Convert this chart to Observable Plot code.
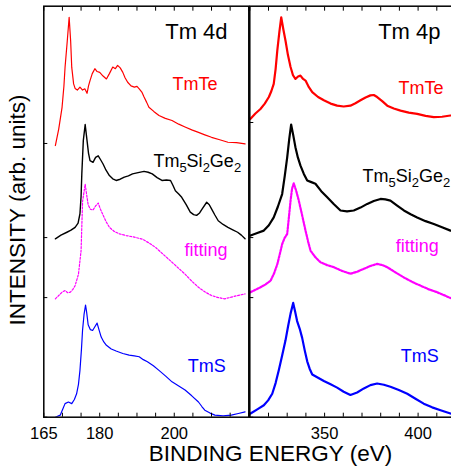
<!DOCTYPE html>
<html><head><meta charset="utf-8">
<script src="https://cdn.jsdelivr.net/npm/d3@7"></script>
<script src="https://cdn.jsdelivr.net/npm/@observablehq/plot@0.6"></script>
<style>
body{margin:0;background:#fff;}
#c{position:relative;width:451px;height:470px;overflow:hidden;font-family:"Liberation Sans",Arial,sans-serif;background:#fff;}
#c svg{position:absolute;top:0;}
.lab{position:absolute;font-size:22.5px;line-height:1;white-space:nowrap;color:#000;font-family:"Liberation Sans",Arial,sans-serif;}
</style></head><body><div id="c"></div>
<script>
// ---- Tm 4d panel (binding energy eV, intensity above baseline, arb. units) ----
const tmTe4d = [[168.1,-0.5],[169.0,3.5],[169.9,8.8],[170.4,14],[170.7,18.5],[171.3,25],[171.8,30.7],[172.2,25],[172.5,18.5],[173.0,14.5],[173.4,13.4],[174.0,13.0],[174.7,13.7],[175.4,13.0],[176.0,13.3],[176.6,12.2],[177.0,14.0],[177.4,15.3],[178.0,17.0],[178.7,18.2],[179.3,17.5],[180.0,17.3],[180.9,16.4],[181.8,15.7],[182.6,17.0],[183.5,18.6],[184.2,18.2],[184.8,19.0],[185.5,18.4],[186.2,17.3],[186.8,16.0],[187.5,14.9],[188.4,14.0],[189.3,13.7],[190.0,13.9],[190.6,13.3],[191.3,12.5],[191.9,11.3],[192.6,10.0],[193.2,8.8],[194.5,7.8],[195.9,6.8],[197.6,6.1],[199.4,5.6],[201.2,4.7],[202.9,4.0],[204.7,3.3],[206.5,2.7],[208.2,2.1],[210.0,1.5],[212.2,0.9],[214.4,0.3],[216.7,0.2],[219,-0.1]];
const tmSiGe4d = [[168.1,-0.3],[169.6,0.6],[171.2,1.3],[172.3,1.8],[173.4,2.5],[174.2,3.5],[174.7,5.8],[175.0,10],[175.2,15.5],[175.6,23.6],[176.1,27.5],[176.6,23.6],[177.0,20.5],[177.4,18.7],[178.2,18.3],[178.9,19.5],[179.6,19.9],[180.2,19.0],[180.9,17.9],[181.7,16.4],[182.6,15.1],[183.5,14.3],[184.4,13.9],[185.5,14.2],[186.6,14.7],[187.7,15.0],[188.8,15.5],[190.3,15.8],[191.9,16.1],[193.0,15.9],[194.1,15.5],[195.4,14.6],[196.7,13.9],[197.9,14.0],[199.0,13.9],[199.7,12.6],[200.3,11.4],[201.2,10.6],[202.0,9.8],[203.2,8.0],[204.3,6.2],[205.2,5.6],[206.0,5.4],[206.8,6.0],[207.5,7.0],[208.7,8.6],[209.4,8.0],[210.0,7.0],[210.9,5.5],[211.8,4.1],[213.1,3.2],[214.4,2.5],[215.7,1.9],[217.0,1.3],[218.0,0.6],[219,-0.3]];
const fit4d = [[168.1,-0.3],[169,0.5],[170.0,1.4],[170.7,1.7],[171.4,1.2],[172.1,1.3],[172.8,2.0],[173.4,2.9],[174.3,5.7],[175,11.4],[175.4,23.4],[176.1,27.6],[176.5,25],[176.9,22.6],[177.5,21.5],[178.2,21.3],[178.9,22.3],[179.6,23.0],[180.2,21.5],[180.9,20.1],[181.7,18.5],[182.6,17.1],[183.9,16.1],[185.3,15.5],[187.1,15.1],[189.3,14.7],[191.5,14.2],[193.2,13.3],[195,12.2],[197.2,10.4],[199.4,8.6],[201.2,7.1],[202.9,5.7],[204.7,4.0],[206.5,2.5],[208.2,1.4],[210,0.5],[211.8,0.0],[213.5,-0.3],[215.3,0.1],[217,0.5],[219,0.9]];
const tmS4d = [[168.1,0],[169.4,0.5],[170.1,2.0],[170.7,3.3],[171.6,3.7],[172.5,3.3],[173.2,4.3],[173.8,5.7],[174.3,8.0],[174.7,11.4],[175.1,16.5],[175.4,21.2],[175.8,25.0],[176.2,27.3],[176.5,25.5],[176.9,22.5],[177.5,21.3],[178.1,21.1],[178.7,22.0],[179.3,22.9],[179.8,21.3],[180.4,19.5],[181.1,18.3],[181.8,17.5],[183.1,16.6],[184.4,16.1],[186.2,15.5],[187.9,15.1],[189.3,14.9],[190.6,14.7],[191.7,14.0],[192.8,13.5],[194.4,12.5],[195.9,11.4],[197.7,10.0],[199.4,8.6],[201.2,7.6],[202.9,6.6],[204.7,5.2],[206.5,3.7],[207.4,2.6],[208.2,1.7],[209.6,1.0],[210.9,0.5],[213.1,0.3],[215.3,0.5],[217.2,0.9],[219,1.3]];

// ---- Tm 4p panel ----
const tmTe4p = [[310.4,0.9],[313.0,2.2],[315.7,3.3],[318.0,4.6],[320.2,6.2],[321.5,7.6],[322.8,9.4],[323.8,13],[324.7,17.5],[325.8,22],[326.8,25.6],[328.0,22.5],[329.1,19.9],[330.4,16.4],[331.8,13.5],[333.1,11.5],[334.4,10.6],[335.8,11.2],[337.1,11.4],[338.5,10.6],[339.8,10.2],[341.6,8.6],[343.4,7.4],[346.5,6.2],[349.6,5.4],[353.2,4.6],[356.7,4.1],[360.2,3.9],[363.8,4.1],[366.5,4.7],[369.2,5.4],[371.9,6.1],[374.5,6.6],[376.3,6.7],[378.1,6.2],[380.8,5.2],[383.5,4.1],[387.0,3.4],[390.6,2.9],[395.0,2.4],[399.5,2.1],[404.0,1.6],[408.4,1.3],[412.8,1.4],[417.3,1.7]];
const tmSiGe4p = [[310.4,0.5],[314.0,1.1],[317.5,1.7],[320.2,3.0],[322.8,4.9],[325.0,7.5],[327.3,10.6],[328.7,15],[330,19.5],[331.1,24],[332.1,27.5],[333.2,25],[334.4,22.0],[335.7,19.5],[337.1,17.5],[338.9,15.5],[340.7,13.9],[342.9,13.5],[345.1,13.1],[348.2,11.3],[351.4,9.8],[355.0,8.1],[358.5,6.6],[362.0,6.4],[365.6,6.6],[369.2,7.3],[372.8,8.2],[376.3,8.9],[379.9,9.4],[382.5,9.3],[385.2,9.0],[388.8,7.8],[392.4,6.6],[396.0,5.7],[399.5,4.9],[404.0,4.0],[408.4,3.3],[412.8,2.5],[417.3,1.7]];
const fit4p = [[310.4,1.3],[313.0,1.9],[315.7,2.5],[318.4,3.2],[321.1,4.1],[322.9,5.8],[324.7,8.1],[326.0,10.5],[327.3,13.0],[328.6,14.5],[330,15.5],[330.9,19.5],[331.8,23.6],[332.6,26.5],[333.5,27.8],[334.8,26],[336.2,23.6],[338.0,20],[339.8,16.3],[341.2,13.6],[342.5,11.4],[345.1,9.8],[347.8,8.6],[351.3,7.9],[354.9,7.4],[359.3,6.5],[363.8,5.8],[367.4,6.3],[371,7.0],[374.5,7.7],[378.1,8.2],[380.8,7.9],[383.5,7.4],[388.0,6.1],[392.4,4.9],[396.9,3.8],[401.3,2.9],[405.8,2.0],[410.2,1.3],[413.8,0.6],[417.3,-0.1]];
const tmS4p = [[310.4,0.9],[314.0,1.9],[317.5,2.9],[319.8,4.1],[322,5.7],[323.8,8.3],[325.5,11.4],[327.3,15.0],[329.1,18.7],[330.5,22.2],[331.8,25.2],[333.2,27.8],[334.2,25.8],[335.3,23.4],[336.7,21.5],[338,19.3],[339.4,16.2],[340.7,13.6],[342.0,11.8],[343.4,10.4],[346.5,9.6],[349.6,8.8],[353.2,8.0],[356.7,7.2],[360.2,6.2],[363.8,5.4],[367.4,6.0],[371,7.0],[374.5,7.8],[378.1,8.2],[381.7,7.9],[385.2,7.4],[389.7,6.6],[394.2,5.7],[398.6,4.5],[403,3.3],[407.5,2.4],[412,1.7],[417.3,0.9]];

// vertical offsets (baselines) of the stacked spectra
const seriesNames = ["TmTe", "Tm5Si2Ge2", "fitting", "TmS"];
const seriesColors = ["#ff0000", "#000000", "#ff00ff", "#0000ff"];
const offsets4d = [66.6, 43.7, 29.1, 0];
const offsets4p = [71.7, 43.7, 29.1, 0];

// tick values
const minorTicks4d = [165,170,175,180,185,190,195,200,205,210,215,220];
const labelTicks4d = [165,180,200];
const minorTicks4p = [310,320,330,340,350,360,370,380,390,400,410,420];
const labelTicks4p = [350,400];

const font = "'Liberation Sans', Arial, sans-serif";

function spectra(sets, offsets, widths, dash) {
  return sets.map((s, i) => Plot.line(s, {
    x: d => d[0], y: d => d[1] + offsets[i],
    stroke: seriesColors[i], strokeWidth: widths[i],
    strokeDasharray: seriesNames[i] === "fitting" ? dash : null,
    clip: true
  }));
}

function panel({domain, sets, offsets, widths, dash, minor, labels, marginLeft, marginRight, width, texts}) {
  return Plot.plot({
    width, height: 470,
    marginLeft, marginRight, marginTop: 5.7, marginBottom: 53.3,
    style: {fontFamily: font, fontSize: "16.5px", background: "transparent", overflow: "visible", color: "#000"},
    x: {domain, label: null},
    y: {domain: [0, 100], label: null},
    marks: [
      ...spectra(sets, offsets, widths, dash),
      Plot.axisX({anchor: "bottom", ticks: minor, tickSize: -4, tickFormat: () => "", label: null, strokeWidth: 1}),
      Plot.axisX({anchor: "top", ticks: minor, tickSize: -4, tickFormat: () => "", label: null, strokeWidth: 1}),
      Plot.axisX({anchor: "bottom", ticks: labels, tickSize: 0, tickPadding: 10, label: null, fontSize: 16.5}),
      Plot.axisY({anchor: "left", ticks: offsets, tickSize: -4, tickFormat: () => "", label: null, strokeWidth: 1}),
      Plot.frame({stroke: "#000", strokeWidth: 1.5}),
      ...texts
    ]
  });
}

const left = panel({
  domain: [165, 220], sets: [tmTe4d, tmSiGe4d, fit4d, tmS4d], offsets: offsets4d,
  widths: [1.2, 1.4, 1.2, 1.2], dash: "2,1.6", minor: minorTicks4d, labels: labelTicks4d,
  marginLeft: 43.3, marginRight: 1.7, width: 250,
  texts: [
    Plot.text(["Tm 4d"], {x: 214.3, y: 92.1, text: d => d, textAnchor: "end", lineAnchor: "bottom", fontSize: 22, fill: "#000"}),
    Plot.text([seriesNames[0]], {x: 211.6, y: 79.7, text: d => d, textAnchor: "end", lineAnchor: "bottom", fontSize: 18, fill: seriesColors[0]}),
    Plot.text([seriesNames[1]], {x: 194.4, y: 60.8, text: d => d, textAnchor: "start", lineAnchor: "bottom", fontSize: 18, fill: seriesColors[1]}),
    Plot.text([seriesNames[2]], {x: 214.3, y: 39.1, text: d => d, textAnchor: "end", lineAnchor: "bottom", fontSize: 18, fill: seriesColors[2]}),
    Plot.text([seriesNames[3]], {x: 213.8, y: 10.9, text: d => d, textAnchor: "end", lineAnchor: "bottom", fontSize: 18, fill: seriesColors[3]})
  ]
});

const right = panel({
  domain: [310, 310 + (462 - 249.3) / 1.87], sets: [tmTe4p, tmSiGe4p, fit4p, tmS4p], offsets: offsets4p,
  widths: [2.2, 2.2, 2.2, 2.2], dash: "2,1.4", minor: minorTicks4p, labels: labelTicks4p,
  marginLeft: 49.3, marginRight: 0, width: 262,
  texts: [
    Plot.text(["Tm 4p"], {x: 412.0, y: 92.1, text: d => d, textAnchor: "end", lineAnchor: "bottom", fontSize: 22, fill: "#000"}),
    Plot.text([seriesNames[0]], {x: 413.6, y: 78.7, text: d => d, textAnchor: "end", lineAnchor: "bottom", fontSize: 18, fill: seriesColors[0]}),
    Plot.text([seriesNames[1]], {x: 370.3, y: 57.2, text: d => d, textAnchor: "start", lineAnchor: "bottom", fontSize: 18, fill: seriesColors[1]}),
    Plot.text([seriesNames[2]], {x: 411.0, y: 40.1, text: d => d, textAnchor: "end", lineAnchor: "bottom", fontSize: 18, fill: seriesColors[2]}),
    Plot.text([seriesNames[3]], {x: 411.0, y: 13.4, text: d => d, textAnchor: "end", lineAnchor: "bottom", fontSize: 18, fill: seriesColors[3]})
  ]
});

// chemical formula with subscripts
function subscriptify(svg) {
  svg.querySelectorAll("text").forEach(t => {
    if (t.textContent === "Tm5Si2Ge2") {
      t.textContent = "";
      const parts = [["Tm", 0, 18], ["5", 5, 13], ["Si", -5, 18], ["2", 5, 13], ["Ge", -5, 18], ["2", 5, 13]];
      for (const [s, dy, fs] of parts) {
        const ts = document.createElementNS("http://www.w3.org/2000/svg", "tspan");
        ts.textContent = s;
        if (dy) ts.setAttribute("dy", dy);
        ts.setAttribute("font-size", fs);
        t.appendChild(ts);
      }
    }
  });
}
subscriptify(left); subscriptify(right);

const c = document.getElementById("c");
left.style.left = "0px";
right.style.left = "200px";
c.appendChild(left);
c.appendChild(right);

const xl = document.createElement("div");
xl.className = "lab";
xl.textContent = "BINDING ENERGY (eV)";
xl.style.left = "270.5px"; xl.style.top = "443px"; xl.style.transform = "translateX(-50%)";
c.appendChild(xl);

const yl = document.createElement("div");
yl.className = "lab";
yl.textContent = "INTENSITY (arb. units)";
yl.style.left = "18.4px"; yl.style.top = "210px"; yl.style.transform = "translate(-50%,-50%) rotate(-90deg)";
c.appendChild(yl);
</script></body></html>
